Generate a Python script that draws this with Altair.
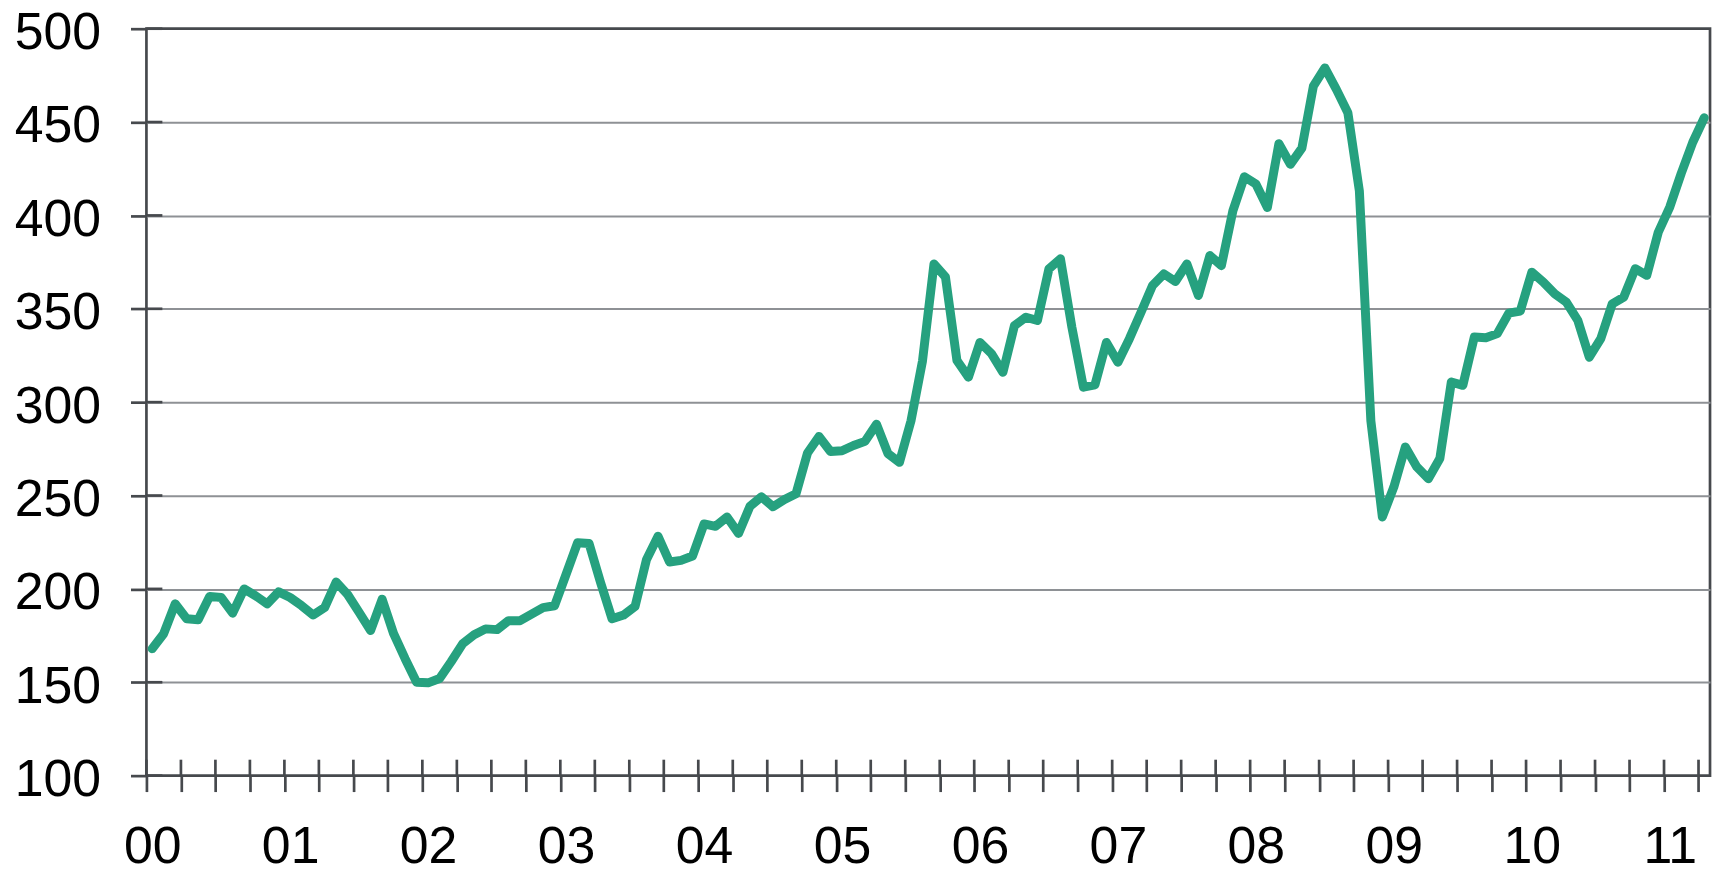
import altair as alt
import pandas as pd

# Monthly index values, Jan 2000 .. Apr 2011
v2000 = [168, 176, 192, 184, 183.5, 196, 195.4, 187, 200, 196.3, 192, 198.4]
v2001 = [195.4, 191, 186, 190, 203.7, 197, 187.4, 177.7, 194.5, 176, 162.6, 150]
v2002 = [149.7, 152, 161, 170.6, 175.4, 178.6, 178.2, 183, 183, 186.5, 190, 191]
v2003 = [207.8, 224.7, 224.3, 203.4, 184, 186, 190.6, 215.8, 228.2, 214.4, 215.3, 217.6]
v2004 = [234.8, 233.5, 238.5, 229.7, 244.3, 249.3, 244, 247.9, 251, 272.8, 281.6, 273.6]
v2005 = [274, 276.8, 279, 288.2, 272.4, 267.8, 290, 322, 374, 367, 322.3, 313.4]
v2006 = [332, 326, 316, 341, 345.5, 343.7, 371.4, 376.8, 340, 308, 309.3, 332]
v2007 = [321.4, 334, 348, 362.4, 368.7, 364.6, 374, 357.1, 378.5, 373.1, 402.5, 420.7]
v2008 = [416.8, 404.3, 438.4, 427.4, 436, 469.2, 479, 467.5, 455, 413.2, 290, 238.5]
v2009 = [254.6, 276, 265.3, 259, 269.8, 310.8, 309, 334.9, 334.5, 336.7, 347.7, 348.8]
v2010 = [369.6, 364.3, 358, 353.6, 343.8, 324.1, 334, 352.7, 356.3, 371.5, 367.9, 391]
v2011 = [404.5, 422.6, 439.2, 452.3]

year_labels = ["00", "01", "02", "03", "04", "05", "06", "07", "08", "09", "10", "11"]
y_ticks = [100, 150, 200, 250, 300, 350, 400, 450, 500]
n_months = 136
x_ticks = list(range(0, n_months, 3))

values = v2000 + v2001 + v2002 + v2003 + v2004 + v2005 + v2006 + v2007 + v2008 + v2009 + v2010 + v2011
df = pd.DataFrame({"m": [i + 0.5 for i in range(len(values))], "v": values})
df_yt = pd.DataFrame({"v": y_ticks})
df_xt = pd.DataFrame({"m": x_ticks})

GREEN = "#26a17f"
DARK = "#46494d"
GRID = "#8e9195"
FONT = "Liberation Sans"
W, H = 1570, 750
month_px = W / n_months

xs = alt.Scale(domain=[0, n_months], nice=False, zero=False)
ys = alt.Scale(domain=[100, 500], nice=False, zero=False)

label_arr = "[" + ",".join("'%s'" % s for s in year_labels) + "]"
xaxis = alt.Axis(
    values=x_ticks, title=None, grid=False, domain=False,
    tickSize=16, tickColor=DARK, tickWidth=2.7,
    labelExpr="datum.value % 12 == 0 ? " + label_arr + "[floor(datum.value / 12)] : ''",
    labelOffset=month_px / 2, labelPadding=30, labelFlush=False, labelOverlap=False,
    labelFont=FONT, labelFontSize=52, labelColor="#000000",
)
yaxis = alt.Axis(
    values=y_ticks, title=None, domain=False,
    tickSize=16, tickColor=DARK, tickWidth=2.7,
    grid=True, gridWidth=2,
    gridColor={"condition": {"test": "datum.value == 100 || datum.value == 500", "value": "rgba(0,0,0,0)"}, "value": GRID},
    labelPadding=30, labelOffset=4, labelFont=FONT, labelFontSize=52, labelColor="#000000",
)

line = alt.Chart(df).mark_line(
    color=GREEN, strokeWidth=9, strokeJoin="round", strokeCap="round"
).encode(
    x=alt.X("m:Q", scale=xs, axis=xaxis),
    y=alt.Y("v:Q", scale=ys, axis=yaxis),
)

# inward halves of the cross-style tick marks
ytick_in = alt.Chart(df_yt).mark_rule(color=DARK, strokeWidth=2.7).encode(
    y=alt.Y("v:Q", scale=ys, axis=yaxis),
    x=alt.value(0), x2=alt.value(16),
)
xtick_in = alt.Chart(df_xt).mark_rule(color=DARK, strokeWidth=2.7).encode(
    x=alt.X("m:Q", scale=xs, axis=xaxis),
    y=alt.value(H - 16), y2=alt.value(H),
)

chart = alt.layer(ytick_in, xtick_in, line).properties(
    width=W, height=H,
    autosize=alt.AutoSizeParams(type="none"),
    padding={"left": 139, "top": 19, "right": 3, "bottom": 100},
).configure_view(stroke=DARK, strokeWidth=2.7)

chart.save("out.html", embed_options={"renderer": "svg", "actions": False})
